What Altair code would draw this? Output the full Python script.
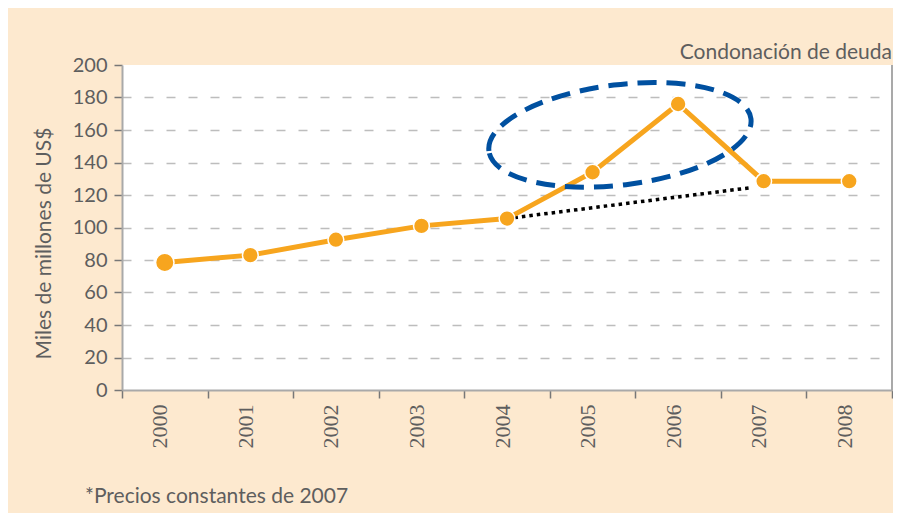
import altair as alt
import pandas as pd

# ---- data ----
years = ["2000", "2001", "2002", "2003", "2004", "2005", "2006", "2007", "2008"]
values = [78.5, 83, 92.5, 101, 105.5, 134, 176, 128.5, 128.5]

# dotted trend line (start / end)
trend_from_year = ["2004"]
trend_to_year = ["2007"]
trend_from_value = [105.5]
trend_to_value = [124.5]

# highlighted region (dashed ellipse) centre
ellipse_year = ["2005"]
ellipse_value = [157]

y_ticks = [0, 20, 40, 60, 80, 100, 120, 140, 160, 180, 200]

TITLE = "Condonación de deuda"
Y_TITLE = "Miles de millones de US$"
NOTE = "*Precios constantes de 2007"

# ---- styling ----
W, H = 770, 325
ORANGE = "#F7A51E"
BLUE = "#0050A0"
BEIGE = "#FDE9CF"
TXT = "#5E5E5E"
AXIS = "#A9A9A9"
SANS = "Lato"
SERIF = "Liberation Serif"

df = pd.DataFrame({"year": years, "value": values})
trend_df = pd.DataFrame({"y0": trend_from_year, "y1": trend_to_year,
                         "v0": trend_from_value, "v1": trend_to_value})
ell_df = pd.DataFrame({"year": ellipse_year, "value": ellipse_value})
note_df = pd.DataFrame({"note": [NOTE]})

xscale = alt.Scale(type="band", domain=years, paddingInner=0, paddingOuter=0)
yscale = alt.Scale(domain=[0, 200], nice=False)

x_axis = alt.Axis(
    title=None, tickBand="extent", labelAngle=270, labelAlign="right",
    labelBaseline="alphabetic", labelOffset=2, labelFont=SERIF, labelFontSize=22,
    labelColor=TXT, labelPadding=6, tickSize=8, tickColor="#777777", tickWidth=1.5,
    domainColor=AXIS, domainWidth=2, grid=False,
)
y_axis = alt.Axis(
    values=y_ticks, title=Y_TITLE, titleFont=SANS, titleFontSize=21,
    titleFontWeight="normal", titleColor=TXT, titleX=-68, titleY=178,
    labelFont=SANS, labelFontSize=20, labelColor=TXT, labelPadding=7,
    labelOverlap=False, tickSize=8, tickColor="#777777", tickWidth=1.5,
    domainColor=AXIS, domainWidth=2,
    grid=True, gridColor="#BDBDBD", gridDash=[9, 13], gridWidth=1.5,
    gridOpacity={"condition": {"test": "datum.value >= 200 || datum.value <= 0", "value": 0}, "value": 1},
)

X = alt.X("year:N", scale=xscale, axis=x_axis, bandPosition=0.5)
Y = alt.Y("value:Q", scale=yscale, axis=y_axis)

line = alt.Chart(df).mark_line(color=ORANGE, strokeWidth=5).encode(x=X, y=Y)

trend = alt.Chart(trend_df).mark_rule(color="black", strokeWidth=3.5, strokeDash=[3.5, 4]).encode(
    x=alt.X("y0:N", scale=xscale, axis=x_axis, bandPosition=0.5),
    x2=alt.X2("y1:N", bandPosition=0.35),
    y=alt.Y("v0:Q", scale=yscale, axis=y_axis),
    y2="v1:Q",
)

points = alt.Chart(df).mark_point(filled=True, fill=ORANGE, stroke="white", strokeWidth=1.5, opacity=1).encode(
    x=X, y=Y,
    size=alt.condition(alt.datum.year == "2000", alt.value(340), alt.value(250)),
)

ELLIPSE = "M -1 0 A 1 0.38 0 1 1 1 0 A 1 0.38 0 1 1 -1 0 Z"
ellipse = alt.Chart(ell_df).mark_point(
    shape=ELLIPSE, size=264 * 264, filled=False, stroke=BLUE, strokeWidth=5,
    strokeDash=[19, 10], opacity=1, angle=353,
).encode(
    x=alt.X("year:N", scale=xscale, axis=x_axis, bandPosition=0.82),
    y=alt.Y("value:Q", scale=yscale, axis=y_axis),
)

border = alt.Chart(note_df).mark_rule(color=AXIS, strokeWidth=2).encode(
    x=alt.value(W), y=alt.value(0), y2=alt.value(H)
)

note = alt.Chart(note_df).mark_text(
    align="left", baseline="alphabetic", font=SANS, fontSize=21, color=TXT
).encode(x=alt.value(-37), y=alt.value(438), text="note:N")

chart = alt.layer(trend, line, points, ellipse, border, note).properties(
    width=W, height=H,
    title=alt.TitleParams(TITLE, anchor="end", frame="group", font=SANS, fontSize=21,
                          fontWeight="normal", color=TXT, baseline="alphabetic",
                          offset=2, dy=27),
    background=BEIGE,
    autosize=alt.AutoSizeParams(type="none"),
    padding={"left": 114, "top": 57, "right": 1, "bottom": 123},
).configure_view(stroke=None, fill="white")

chart.save("out.html", embed_options={"renderer": "svg", "actions": False})
